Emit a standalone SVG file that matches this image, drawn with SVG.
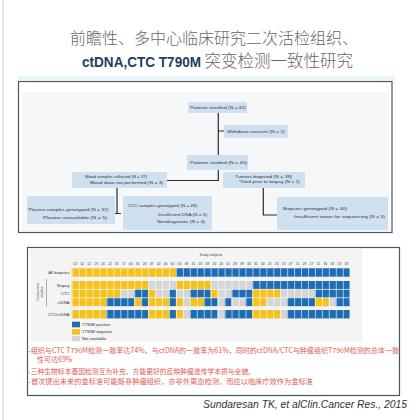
<svg xmlns="http://www.w3.org/2000/svg" width="420" height="420" viewBox="0 0 420 420">
<style>
.t{font-family:"Liberation Sans",Arial,sans-serif;fill:#333;font-size:4.2px}
.box{fill:#cfe0f1}
.conn{stroke:#2b2b2b;stroke-width:1.2;fill:none}
.Y{fill:#f5c11d}.B{fill:#1e6db4}.G{fill:#d5d5d5}
.lab{font-family:"Liberation Sans",Arial,sans-serif;fill:#333;font-size:4.2px;text-anchor:end}
.num{font-family:"Liberation Sans",Arial,sans-serif;fill:#444;font-size:3.5px;text-anchor:middle}
.red{font-family:"Noto Sans CJK SC","Liberation Sans",sans-serif;fill:#e05a52;font-size:7px}
.frame{fill:#fff;stroke:#4b5661;stroke-width:1.2}
</style>
<defs>
<pattern id="vgrid" x="71.7" y="0" width="6.95" height="10" patternUnits="userSpaceOnUse"><rect x="0" y="0" width="0.6" height="10" fill="#fff"/></pattern>
</defs>
<rect width="420" height="420" fill="#fff"/>
<line x1="3" y1="0" x2="3" y2="420" stroke="#d9d9d9" stroke-width="1.5"/>

<!-- Title -->
<g id="title">
<text x="214" y="43.5" text-anchor="middle" font-family="'Noto Sans CJK SC',sans-serif" font-weight="300" font-size="16" fill="#666">前瞻性、多中心临床研究二次活检组织、</text>
<text x="82" y="67" font-family="'Liberation Sans',Arial,sans-serif" font-weight="bold" font-size="15.5" fill="#1f3d5e" textLength="119" lengthAdjust="spacingAndGlyphs">ctDNA,CTC T790M</text>
<text x="204.5" y="67" font-family="'Noto Sans CJK SC',sans-serif" font-weight="300" font-size="16.5" fill="#666" textLength="148.5" lengthAdjust="spacingAndGlyphs">突变检测一致性研究</text>
</g>

<!-- Panels -->
<rect x="18" y="76" width="377" height="4" fill="#eaf5f7"/>
<rect class="frame" x="18.5" y="81.5" width="373.5" height="151"/>
<rect x="22" y="92" width="368" height="139" fill="#f6f7f8"/>
<rect class="frame" x="27.5" y="247.5" width="372" height="148"/>
<rect x="30" y="249" width="332" height="93" fill="#f4f4f4"/>

<!-- Connectors -->
<g id="connectors">
<path class="conn" d="M218.3 113 V155 M218.3 131 H224 M218.3 170 V180.5 H167 M117 188 V213.5 M113.5 213.5 H121 M263.3 188 V215 H277"/>
</g>

<!-- Flowchart nodes -->
<g id="enrolled">
<rect class="box" x="188" y="102" width="59" height="11"/>
<text class="t" x="190" y="109" textLength="56" lengthAdjust="spacingAndGlyphs">Patients enrolled (N = 42)</text>
</g>
<g id="withdrew">
<rect class="box" x="224" y="125" width="64" height="13"/>
<text class="t" x="227" y="132.8" textLength="58" lengthAdjust="spacingAndGlyphs">Withdrew consent (N = 2)</text>
</g>
<g id="studied">
<rect class="box" x="187" y="155" width="61" height="15"/>
<text class="t" x="190" y="164" textLength="57" lengthAdjust="spacingAndGlyphs">Patients studied (N = 40)</text>
</g>
<g id="blood">
<rect class="box" x="72" y="172" width="95" height="16"/>
<text class="t" x="85" y="178" textLength="62" lengthAdjust="spacingAndGlyphs">Blood samples collected (N = 37)</text>
<text class="t" x="90" y="184" textLength="73" lengthAdjust="spacingAndGlyphs">Blood draw not performed (N = 3)</text>
</g>
<g id="tumors">
<rect class="box" x="223" y="172" width="82" height="16"/>
<text class="t" x="235" y="177.5" textLength="57" lengthAdjust="spacingAndGlyphs">Tumors biopsied (N = 39)</text>
<text class="t" x="239" y="182.5" textLength="61" lengthAdjust="spacingAndGlyphs">*Died prior to biopsy (N = 1)</text>
</g>
<g id="plasma">
<rect class="box" x="27" y="196" width="88" height="28"/>
<text class="t" x="28.5" y="210.5" textLength="80" lengthAdjust="spacingAndGlyphs">Plasma samples genotyped (N = 32)</text>
<text class="t" x="43" y="218.5" textLength="64" lengthAdjust="spacingAndGlyphs">Plasma unavailable (N = 5)</text>
</g>
<g id="ctc">
<rect class="box" x="123" y="196" width="89" height="34"/>
<text class="t" x="128" y="207" textLength="69" lengthAdjust="spacingAndGlyphs">CTC samples genotyped (N = 28)</text>
<text class="t" x="158" y="215.5" textLength="49" lengthAdjust="spacingAndGlyphs">Insufficient DNA (N = 5)</text>
<text class="t" x="157" y="222.5" textLength="48" lengthAdjust="spacingAndGlyphs">Nondiagnostic (N = 4)</text>
</g>
<g id="biopsies">
<rect class="box" x="277" y="197" width="111" height="33"/>
<text class="t" x="283" y="209.5" textLength="64" lengthAdjust="spacingAndGlyphs">Biopsies genotyped (N = 30)</text>
<text class="t" x="294" y="218" textLength="91" lengthAdjust="spacingAndGlyphs">Insufficient tumor for sequencing (N = 9)</text>
</g>

<!-- Heatmap -->
<g id="heatmap">
<text class="num" x="211" y="256" font-size="4.5">Study subjects</text>
<text class="num" y="264.5"><tspan x="75.18">02</tspan><tspan x="82.13">10</tspan><tspan x="89.08">12</tspan><tspan x="96.03">19</tspan><tspan x="102.98">20</tspan><tspan x="109.93">22</tspan><tspan x="116.88">31</tspan><tspan x="123.83">17</tspan><tspan x="130.78">04</tspan><tspan x="137.73">35</tspan><tspan x="144.68">26</tspan><tspan x="151.63">37</tspan><tspan x="158.58">42</tspan><tspan x="165.53">06</tspan><tspan x="172.48">30</tspan><tspan x="179.43">05</tspan><tspan x="186.38">38</tspan><tspan x="193.33">41</tspan><tspan x="200.28">03</tspan><tspan x="207.23">08</tspan><tspan x="214.18">16</tspan><tspan x="221.13">24</tspan><tspan x="228.08">01</tspan><tspan x="235.03">28</tspan><tspan x="241.98">39</tspan><tspan x="248.93">34</tspan><tspan x="255.88">32</tspan><tspan x="262.83">40</tspan><tspan x="269.78">25</tspan><tspan x="276.73">26</tspan><tspan x="283.68">23</tspan><tspan x="290.63">07</tspan><tspan x="297.58">15</tspan><tspan x="304.53">29</tspan><tspan x="311.48">27</tspan><tspan x="318.43">11</tspan><tspan x="325.38">36</tspan><tspan x="332.33">33</tspan><tspan x="339.28">13</tspan><tspan x="346.23">18</tspan></text>

<text class="lab" x="69.5" y="274">All biopsies</text>
<text class="lab" x="69.5" y="286.7">Biopsy</text>
<text class="lab" x="69.5" y="295.1">CTC</text>
<text class="lab" x="69.5" y="303.5">ctDNA</text>
<text class="lab" x="69.5" y="315.7">CTC/ctDNA</text>
<text class="num" transform="translate(38.5 292) rotate(-90)">Concurrent</text>
<text class="num" transform="translate(43 292) rotate(-90)">studies</text>
<line x1="46.5" y1="279" x2="46.5" y2="307" stroke="#666" stroke-width="0.5"/>

<g transform="translate(71.7 0) scale(6.95 1)">
<rect class="Y" x="0" y="268.3" width="15" height="8.4"/>
<rect class="B" x="15" y="268.3" width="25" height="8.4"/>
<rect class="Y" x="0" y="281" width="11" height="8.4"/>
<rect class="G" x="11" y="281" width="4" height="8.4"/>
<rect class="Y" x="15" y="281" width="5" height="8.4"/>
<rect class="G" x="20" y="281" width="6" height="8.4"/>
<rect class="B" x="26" y="281" width="14" height="8.4"/>
<rect class="Y" x="0" y="289.4" width="7" height="8.4"/>
<rect class="G" x="7" y="289.4" width="2" height="8.4"/>
<rect class="B" x="9" y="289.4" width="2" height="8.4"/>
<rect class="Y" x="11" y="289.4" width="1" height="8.4"/>
<rect class="G" x="12" y="289.4" width="2" height="8.4"/>
<rect class="B" x="14" y="289.4" width="1" height="8.4"/>
<rect class="G" x="15" y="289.4" width="2" height="8.4"/>
<rect class="B" x="17" y="289.4" width="3" height="8.4"/>
<rect class="Y" x="20" y="289.4" width="1" height="8.4"/>
<rect class="G" x="21" y="289.4" width="2" height="8.4"/>
<rect class="B" x="23" y="289.4" width="3" height="8.4"/>
<rect class="Y" x="26" y="289.4" width="4" height="8.4"/>
<rect class="G" x="30" y="289.4" width="5" height="8.4"/>
<rect class="B" x="35" y="289.4" width="5" height="8.4"/>
<rect class="Y" x="0" y="297.8" width="5" height="8.4"/>
<rect class="B" x="5" y="297.8" width="4" height="8.4"/>
<rect class="Y" x="9" y="297.8" width="1" height="8.4"/>
<rect class="B" x="10" y="297.8" width="1" height="8.4"/>
<rect class="Y" x="11" y="297.8" width="3" height="8.4"/>
<rect class="B" x="14" y="297.8" width="1" height="8.4"/>
<rect class="Y" x="15" y="297.8" width="1" height="8.4"/>
<rect class="G" x="16" y="297.8" width="1" height="8.4"/>
<rect class="Y" x="17" y="297.8" width="2" height="8.4"/>
<rect class="B" x="19" y="297.8" width="2" height="8.4"/>
<rect class="G" x="21" y="297.8" width="1" height="8.4"/>
<rect class="B" x="22" y="297.8" width="1" height="8.4"/>
<rect class="G" x="23" y="297.8" width="2" height="8.4"/>
<rect class="B" x="25" y="297.8" width="1" height="8.4"/>
<rect class="Y" x="26" y="297.8" width="2" height="8.4"/>
<rect class="G" x="28" y="297.8" width="3" height="8.4"/>
<rect class="B" x="31" y="297.8" width="4" height="8.4"/>
<rect class="Y" x="35" y="297.8" width="2" height="8.4"/>
<rect class="G" x="37" y="297.8" width="1" height="8.4"/>
<rect class="B" x="38" y="297.8" width="2" height="8.4"/>
<rect class="Y" x="0" y="310" width="5" height="8.4"/>
<rect class="B" x="5" y="310" width="6" height="8.4"/>
<rect class="Y" x="11" y="310" width="3" height="8.4"/>
<rect class="B" x="14" y="310" width="1" height="8.4"/>
<rect class="Y" x="15" y="310" width="1" height="8.4"/>
<rect class="G" x="16" y="310" width="1" height="8.4"/>
<rect class="B" x="17" y="310" width="4" height="8.4"/>
<rect class="G" x="21" y="310" width="1" height="8.4"/>
<rect class="B" x="22" y="310" width="4" height="8.4"/>
<rect class="Y" x="26" y="310" width="4" height="8.4"/>
<rect class="G" x="30" y="310" width="1" height="8.4"/>
<rect class="B" x="31" y="310" width="9" height="8.4"/>
</g>
<rect x="71.7" y="268.3" width="278.6" height="8.4" fill="url(#vgrid)"/>
<rect x="71.7" y="281" width="278.6" height="25.2" fill="url(#vgrid)"/>
<rect x="71.7" y="310" width="278.6" height="8.4" fill="url(#vgrid)"/>
<path d="M71.7 289.4 H350.3 M71.7 297.8 H350.3" stroke="#fff" stroke-width="0.6"/>

<rect class="B" x="72" y="321.7" width="8" height="5.6"/>
<rect class="Y" x="72" y="329" width="8" height="5.6"/>
<rect class="G" x="72" y="336" width="8" height="5"/>
<text class="t" x="82" y="325.8" font-size="3.4">T790M positive</text>
<text class="t" x="82" y="333" font-size="3.4">T790M negative</text>
<text class="t" x="82" y="340" font-size="3.4">Not available</text>
</g>

<!-- Conclusions -->
<g id="notes">
<text class="red" x="27" y="352.5" textLength="372" lengthAdjust="spacingAndGlyphs">–组织与CTC T790M检测一致率达74%，与ctDNA的一致率为61%，同时的ctDNA/CTC与肿瘤组织T790M检测的总体一致</text>
<text class="red" x="37" y="361.5">性可达69%</text>
<text class="red" x="27" y="373.5" textLength="228" lengthAdjust="spacingAndGlyphs">–三种生物标本基因检测互为补充，方能更好的反映肿瘤遗传学本质与全貌。</text>
<text class="red" x="27" y="384" textLength="286" lengthAdjust="spacingAndGlyphs">–首次提出未来的金标准可能既非肿瘤组织，亦非外周血检测，而应以临床疗效作为金标准</text>
</g>
<text x="203" y="408" font-family="'Liberation Sans',Arial,sans-serif" font-style="italic" font-size="11" fill="#333" textLength="204" lengthAdjust="spacingAndGlyphs">Sundaresan TK, et alClin.Cancer Res., 2015</text>
</svg>
